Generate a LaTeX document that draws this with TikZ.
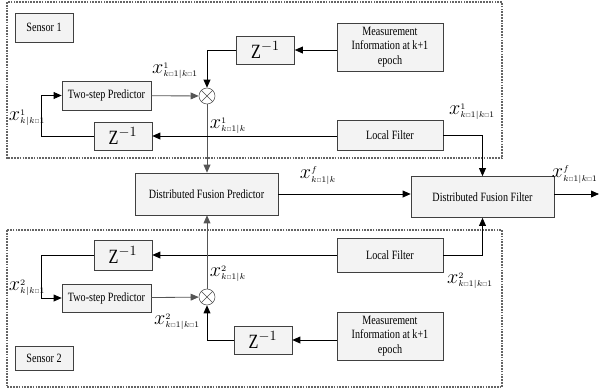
\documentclass[tikz,border=0pt]{standalone}
\usepackage{fontspec}
\setmainfont{Liberation Serif}[FakeStretch=0.8]
\usepackage{amsmath}
\usepackage{amssymb}
\usetikzlibrary{arrows.meta, positioning, calc, shadows}
\definecolor{boxgray}{RGB}{243,243,243}
\definecolor{linegray}{RGB}{85,85,85}
\definecolor{framegray}{RGB}{100,100,100}
\newcommand{\sq}{\mbox{\scalebox{0.45}{$\square$}}}
\newcommand{\xs}[2]{\mbox{\Large$x$}^{#1}_{#2}}

\begin{document}
\begin{tikzpicture}[x=0.025cm, y=-0.025cm,
    block/.style={rectangle, draw=black!75, fill=boxgray, drop shadow={opacity=0.25, shadow xshift=0.7pt, shadow yshift=-0.7pt}, align=center, font=\fontsize{9}{10.5}\selectfont, inner sep=1pt},
    zbox/.style={block, minimum width=1.45cm, minimum height=0.7cm, font=\Large},
    mix/.style={circle, draw=black!70, fill=white, minimum size=0.4cm, inner sep=0pt,
        path picture={\draw[black!70] (path picture bounding box.north west) -- (path picture bounding box.south east)
            (path picture bounding box.north east) -- (path picture bounding box.south west);}},
    lbl/.style={font=\small, inner sep=0pt},
    frame/.style={draw=framegray, thick, dash pattern=on 1.2pt off 0.8pt},
    arrow/.style={-{Triangle[length=2mm, width=1.7mm]}, semithick, black},
    arrowg/.style={-{Triangle[length=2mm, width=1.7mm]}, semithick, linegray}
]
\useasboundingbox (0,0) rectangle (600,391);

% Sensor frames
\draw[frame] (7,2) rectangle (502,158);
\draw[frame] (7,230) rectangle (502,387);

% Sensor 1 nodes
\node[block, minimum width=1.45cm, minimum height=0.725cm] (sensorA) at (44,27.5) {Sensor 1};
\node[zbox] (ztopA) at (265.5,50) {Z$^{-1}$};
\node[block, minimum width=2.65cm, minimum height=1.2cm] (measA) at (390,47) {Measurement\\Information at k+1\\epoch};
\node[block, minimum width=2.225cm, minimum height=0.725cm] (predA) at (106.5,95.5) {Two-step Predictor};
\node[mix] (mixA) at (207,96) {};
\node[zbox] (zfbA) at (123,136) {Z$^{-1}$};
\node[block, minimum width=2.65cm, minimum height=0.75cm] (localA) at (390,135) {Local Filter};

% Fusion nodes
\node[block, minimum width=3.575cm, minimum height=1.05cm] (fusPred) at (206.5,194) {Distributed Fusion Predictor};
\node[block, minimum width=3.575cm, minimum height=1.025cm] (fusFilt) at (482.5,197) {Distributed Fusion Filter};
\coordinate (fusOut) at (599,194);

% Sensor 2 nodes
\node[zbox, minimum height=0.75cm] (zfbB) at (123,255) {Z$^{-1}$};
\node[block, minimum width=2.65cm, minimum height=0.85cm] (localB) at (390,255) {Local Filter};
\node[block, minimum width=2.225cm, minimum height=0.7cm] (predB) at (106.5,298) {Two-step Predictor};
\node[mix] (mixB) at (207,297) {};
\node[zbox] (ztopB) at (263,340) {Z$^{-1}$};
\node[block, minimum width=2.65cm, minimum height=1.2cm] (measB) at (390,336) {Measurement\\Information at k+1\\epoch};
\node[block, minimum width=1.45cm, minimum height=0.6cm] (sensorB) at (44,358) {Sensor 2};

% Labels
\node[lbl] (lblA1) at (175,71) {$\xs{1}{k\sq1|k\sq1}$};
\node[lbl] (lblA2) at (27,118) {$\xs{1}{k|k\sq1}$};
\node[lbl] (lblA3) at (228,126) {$\xs{1}{k\sq1|k}$};
\node[lbl] (lblA4) at (472,112) {$\xs{1}{k\sq1|k\sq1}$};
\node[lbl] (lblF1) at (318,176) {$\xs{f}{k\sq1|k}$};
\node[lbl, anchor=east] (lblF2) at (598,175) {$\xs{f}{k\sq1|k\sq1}$};
\node[lbl] (lblB1) at (27,288) {$\xs{2}{k|k\sq1}$};
\node[lbl] (lblB2) at (228,274) {$\xs{2}{k\sq1|k}$};
\node[lbl] (lblB3) at (177,322) {$\xs{2}{k\sq1|k\sq1}$};
\node[lbl] (lblB4) at (470,281) {$\xs{2}{k\sq1|k\sq1}$};

% Sensor 1 connectors
\draw[arrow] (measA.west |- ztopA) -- (ztopA.east);
\draw[arrow] (ztopA.west) -| (mixA.north);
\draw[arrowg] (predA) -- (mixA);
\draw[arrowg] (mixA.south) -- (mixA.south |- fusPred.north);
\draw[arrow] (localA.west |- zfbA) -- (zfbA.east);
\draw[arrow] (zfbA.west) -- ++(-52,0) |- (predA.west);
\draw[arrow] (localA.east) -| (fusFilt.north);

% Sensor 2 connectors
\draw[arrow] (localB.east) -| (fusFilt.south);
\draw[arrow] (localB.west) -- (zfbB.east);
\draw[arrow] (zfbB.west) -- ++(-52,0) |- (predB.west);
\draw[arrowg] (predB) -- (mixB);
\draw[arrow] (ztopB.west) -| (mixB.south);
\draw[arrow] (measB.west |- ztopB) -- (ztopB.east);
\draw[arrowg] (mixB.north) -- (mixB.north |- fusPred.south);

% Fusion connectors
\draw[arrow] (fusPred.east) -- (fusPred.east -| fusFilt.west);
\draw[arrow] (fusFilt.east |- fusOut) -- (fusOut);

\end{tikzpicture}
\end{document}
